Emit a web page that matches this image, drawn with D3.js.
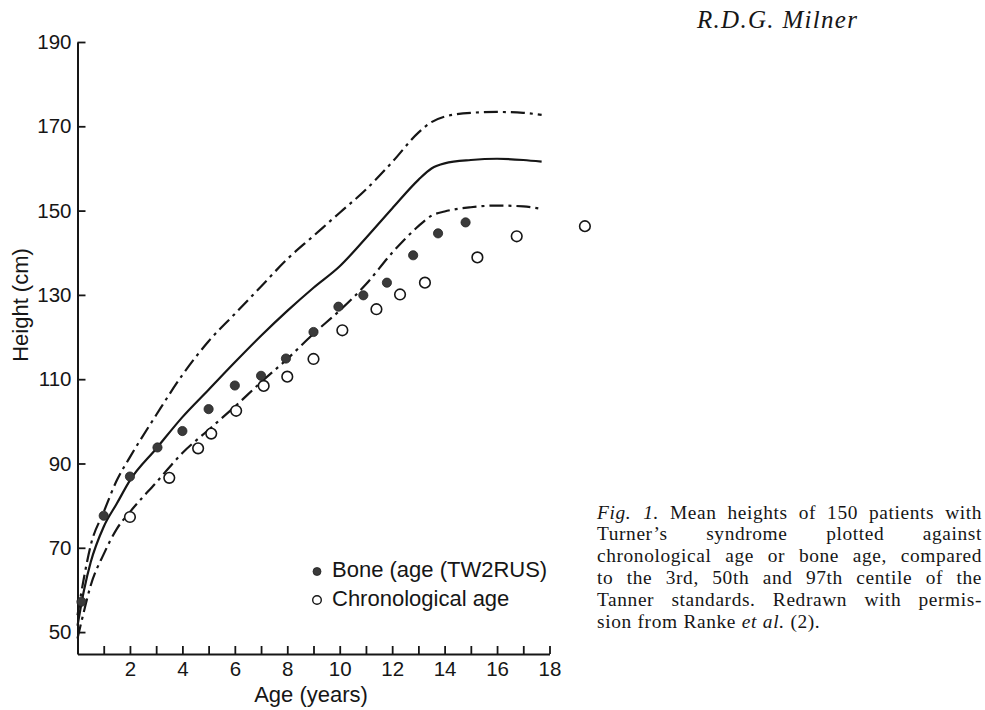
<!DOCTYPE html>
<html>
<head>
<meta charset="utf-8">
<script src="https://cdn.jsdelivr.net/npm/d3@7"></script>
<style>
  html, body { margin: 0; padding: 0; background: #fff; }
  svg { display: block; }
</style>
</head>
<body>
<svg id="chart" width="985" height="710"></svg>
<script>
// ---- Data -------------------------------------------------------------
// Tanner standard centiles for girls (height in cm by age in years)
const centileAges = [0, 0.25, 0.5, 1, 1.5, 2, 3, 4, 5, 6, 7, 8, 9, 10, 11, 12, 13, 13.5, 14, 15, 16, 17, 17.7];
const centile97 = [54, 63, 70.5, 78.5, 86, 91.5, 101.5, 111, 119, 125.5, 132, 138.5, 144, 149.5, 155, 161.5, 168.5, 171, 172.3, 173.2, 173.4, 173.2, 172.7];
const centile50 = [51.5, 60, 66.5, 75, 80.5, 86, 93.5, 101, 107.5, 114, 120.3, 126.2, 131.7, 136.8, 143.5, 150.5, 157.3, 160, 161.2, 162, 162.3, 162, 161.6];
const centile3 = [48.5, 55, 61, 68.5, 74.5, 78.5, 85.5, 92.5, 98, 103.5, 109.3, 114.8, 120.8, 126.3, 132.5, 140, 146.3, 148.8, 149.8, 150.8, 151.2, 151, 150.4];

// Mean heights of the Turner's syndrome patients
const boneAges = [0.15, 1.0, 2.0, 3.05, 4.0, 5.0, 6.0, 7.0, 7.95, 9.0, 9.95, 10.9, 11.8, 12.8, 13.75, 14.8];
const boneHeights = [57.2, 77.6, 86.9, 93.8, 97.7, 102.9, 108.5, 110.8, 114.9, 121.2, 127.2, 129.9, 132.9, 139.4, 144.6, 147.2];

const chronoAges = [2.0, 3.5, 4.6, 5.1, 6.05, 7.1, 8.0, 9.0, 10.1, 11.4, 12.3, 13.25, 15.25, 16.75, 19.35];
const chronoHeights = [77.3, 86.6, 93.6, 97.1, 102.5, 108.4, 110.6, 114.8, 121.6, 126.6, 130.1, 132.9, 138.9, 143.9, 146.3];

// Axis ticks
const ageTicks = d3.range(1, 19);
const ageLabelTicks = [2, 4, 6, 8, 10, 12, 14, 16, 18];
const heightTicks = [50, 70, 90, 110, 130, 150, 170, 190];

const legendLabels = ["Bone (age (TW2RUS)", "Chronological age"];
const headerText = "R.D.G. Milner";
const captionLines = [
  "*Fig.* *1.* Mean heights of 150 patients with",
  "Turner\u2019s syndrome plotted against",
  "chronological age or bone age, compared",
  "to the 3rd, 50th and 97th centile of the",
  "Tanner standards. Redrawn with permis-",
  "sion from Ranke *et* *al.* (2)."
];

// ---- Drawing ----------------------------------------------------------
const svg = d3.select("#chart");
const ink = "#161616";
const sans = "'Liberation Sans', Arial, Helvetica, sans-serif";
const serif = "'Liberation Serif', 'Times New Roman', serif";

const x = d3.scaleLinear().domain([0, 18]).range([77.5, 549.5]);
const y = d3.scaleLinear().domain([44.8, 190]).range([654, 42]);

// Axes
const xAxis = d3.axisBottom(x)
  .tickValues(ageTicks)
  .tickSizeInner(-8)
  .tickSizeOuter(0)
  .tickPadding(7)
  .tickFormat(d => ageLabelTicks.includes(d) ? d : "");

const yAxis = d3.axisLeft(y)
  .tickValues(heightTicks)
  .tickSizeInner(-8)
  .tickSizeOuter(0)
  .tickPadding(6);

const gx = svg.append("g").attr("transform", `translate(0,${y(44.8)})`).call(xAxis);
const gy = svg.append("g").attr("transform", `translate(${x(0)},0)`).call(yAxis);

[gx, gy].forEach(g => {
  g.selectAll("path.domain").attr("stroke", ink).attr("stroke-width", 2);
  g.selectAll(".tick line").attr("stroke", ink).attr("stroke-width", 1.8);
  g.selectAll(".tick text")
    .attr("fill", ink)
    .style("font-family", sans)
    .style("font-size", "20.5px");
});

// Axis titles
svg.append("text")
  .attr("x", 311).attr("y", 702)
  .attr("text-anchor", "middle")
  .attr("fill", ink)
  .style("font-family", sans).style("font-size", "22px")
  .text("Age (years)");

svg.append("text")
  .attr("transform", "translate(28,305) rotate(-90)")
  .attr("text-anchor", "middle")
  .attr("fill", ink)
  .style("font-family", sans).style("font-size", "22px")
  .text("Height (cm)");

// Centile curves
const line = d3.line()
  .x(d => x(d[0]))
  .y(d => y(d[1]))
  .curve(d3.curveMonotoneX);

const curves = [
  { values: centile97, dash: "14,5,3,5" },
  { values: centile50, dash: null },
  { values: centile3, dash: "14,5,3,5" }
];

svg.append("g").selectAll("path")
  .data(curves)
  .join("path")
  .attr("d", c => line(centileAges.map((a, i) => [a, c.values[i]])))
  .attr("fill", "none")
  .attr("stroke", ink)
  .attr("stroke-width", 2.2)
  .attr("stroke-dasharray", c => c.dash);

// Patient means
svg.append("g").selectAll("circle")
  .data(chronoAges.map((a, i) => [a, chronoHeights[i]]))
  .join("circle")
  .attr("cx", d => x(d[0]))
  .attr("cy", d => y(d[1]))
  .attr("r", 5.3)
  .attr("fill", "#fff")
  .attr("stroke", ink)
  .attr("stroke-width", 1.6);

svg.append("g").selectAll("circle")
  .data(boneAges.map((a, i) => [a, boneHeights[i]]))
  .join("circle")
  .attr("cx", d => x(d[0]))
  .attr("cy", d => y(d[1]))
  .attr("r", 4.6)
  .attr("fill", "#3a3a3a")
  .attr("stroke", "#222")
  .attr("stroke-width", 0.8);

// Legend
const legend = svg.append("g").attr("transform", "translate(317,0)");
legend.append("circle").attr("cx", 0).attr("cy", 571.5).attr("r", 4)
  .attr("fill", "#3a3a3a").attr("stroke", "#222").attr("stroke-width", 0.8);
legend.append("circle").attr("cx", 0).attr("cy", 600).attr("r", 4.3)
  .attr("fill", "#fff").attr("stroke", ink).attr("stroke-width", 1.4);
legend.selectAll("text")
  .data(legendLabels)
  .join("text")
  .attr("x", 15)
  .attr("y", (d, i) => i === 0 ? 577 : 605.5)
  .attr("fill", ink)
  .style("font-family", sans).style("font-size", "22px")
  .text(d => d);

// Running header
svg.append("text")
  .attr("x", 697).attr("y", 28)
  .attr("fill", ink)
  .attr("textLength", 160)
  .attr("lengthAdjust", "spacing")
  .style("font-family", serif).style("font-style", "italic").style("font-size", "25px")
  .text(headerText);

// Figure caption, justified between capLeft and capRight
const capLeft = 597, capRight = 982, capTop = 518.5, capLead = 21.8;
const capSize = 19.4;
const capG = svg.append("g");
captionLines.forEach((ln, li) => {
  const words = ln.split(" ").map(w => {
    const it = /^\*.*\*$/.test(w);
    return { text: it ? w.slice(1, -1) : w, italic: it };
  });
  const baseY = capTop + li * capLead;
  const nodes = words.map(w => capG.append("text")
    .attr("y", baseY)
    .attr("fill", ink)
    .style("font-family", serif)
    .style("font-size", capSize + "px")
    .style("letter-spacing", "0.6px")
    .style("font-style", w.italic ? "italic" : "normal")
    .text(w.text));
  const widths = nodes.map(n => n.node().getBBox().width);
  const total = d3.sum(widths);
  const last = li === captionLines.length - 1;
  const gap = last ? capSize * 0.3 : (capRight - capLeft - total) / (words.length - 1);
  let cx = capLeft;
  nodes.forEach((n, i) => { n.attr("x", cx); cx += widths[i] + gap; });
});
</script>
</body>
</html>
